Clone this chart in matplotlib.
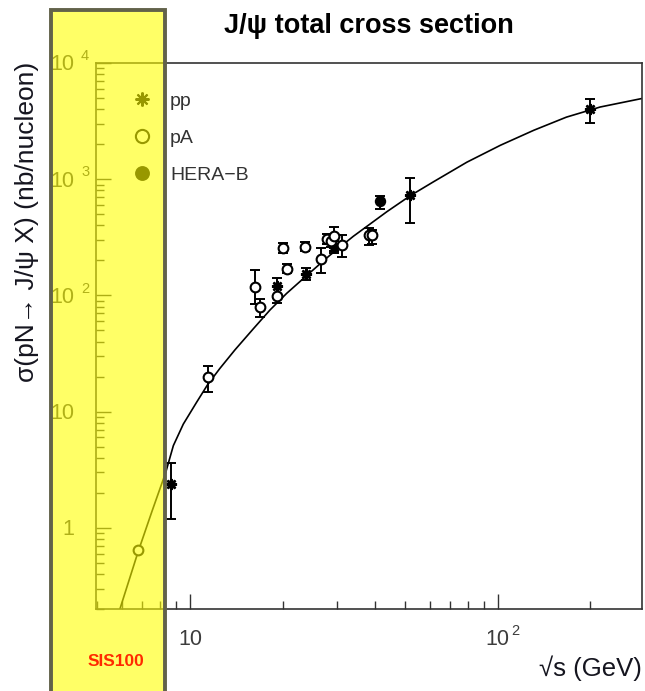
import numpy as np
import matplotlib
matplotlib.use("Agg")
import matplotlib.pyplot as plt
from matplotlib.lines import Line2D
from matplotlib.patches import Rectangle
from matplotlib.ticker import FixedLocator, LogLocator, NullFormatter

plt.rcParams['font.family'] = ['Liberation Sans', 'DejaVu Sans']

# ---------------- data ----------------
# fit curve
curve_x = [5.92, 6.78, 7.52, 8.34, 8.83, 9.51, 10.5, 11.4, 12.5, 14.0, 16.1, 18.2,
           20.6, 24.2, 28.5, 33.9, 43.6, 51.9, 61.8, 79.3, 102, 131, 167, 215, 294]
curve_y = [0.2, 0.62, 1.38, 3.0, 5.1, 7.8, 12.0, 17.0, 23.5, 34, 52, 75,
           104, 152, 222, 322, 525, 720, 950, 1400, 1960, 2640, 3420, 4180, 4950]

# pp
pp_x = [8.65, 19.1, 23.8, 29.3, 51.9, 200]
pp_y = [2.37, 120, 152, 262, 730, 3980]
pp_lo = [1.17, 25, 16, 30, 313, 925]
pp_hi = [1.23, 22, 19, 30, 286, 905]

# pA
pA_x = [6.8, 11.4, 16.3, 16.9, 19.1, 20.1, 20.7, 23.6, 26.7, 27.8, 28.8, 29.4, 31.2, 38.2, 38.9]
pA_y = [0.65, 19.8, 119, 80, 98, 254, 170, 262, 205, 305, 292, 322, 272, 330, 328]
pA_lo = [np.nan, 5.2, 34, 15, 12, 24, 15, 21, 50, 30, 30, 80, 56, 59, 50]
pA_hi = [np.nan, 4.9, 46, 14, 20, 26, 16, 28, 49, 35, 30, 65, 56, 47, 40]

# HERA-B
hb_x = [41.5]
hb_y = [652]
hb_lo = [102]
hb_hi = [68]

legend_labels = ['pp', 'pA', 'HERA\u2212B']

xtick_vals = [10, 100]
xtick_base = ['10', '10']
xtick_exp = ['', '2']
ytick_vals = [1, 10, 100, 1000, 10000]
ytick_base = ['1', '10', '10', '10', '10']
ytick_exp = ['', '', '2', '3', '4']

title = 'J/\u03c8 total cross section'
ylabel = '\u03c3(pN\u2192 J/\u03c8 X) (nb/nucleon)'
xlabel = '\u221as (GeV)'
band_label = 'SIS100'

# ---------------- figure ----------------
W, H = 645, 691
fig = plt.figure(figsize=(W / 100, H / 100), dpi=100)
ax = fig.add_axes([96 / W, 1 - 609 / H, 546 / W, 546 / H])
ax.set_xscale('log')
ax.set_yscale('log')
ax.set_xlim(4.95, 294)
ax.set_ylim(0.2, 1e4)

ax.plot(curve_x, curve_y, color='black', lw=1.2, zorder=2)

ekw = dict(fmt='none', ecolor='black', elinewidth=1.4, capsize=3.5, capthick=1.4, zorder=3)
ax.errorbar(pp_x, pp_y, yerr=[pp_lo, pp_hi], **ekw)
pA_x_a = np.array(pA_x); pA_y_a = np.array(pA_y)
lo_a = np.array(pA_lo); hi_a = np.array(pA_hi)
m = ~np.isnan(lo_a)
ax.errorbar(pA_x_a[m], pA_y_a[m], yerr=[lo_a[m], hi_a[m]], **ekw)
ax.errorbar(hb_x, hb_y, yerr=[hb_lo, hb_hi], **ekw)

star = (8, 2, 0)
ax.plot(pp_x, pp_y, ls='none', marker=star, ms=8, mew=1.8, color='black', zorder=4)
ax.plot(pA_x, pA_y, ls='none', marker='o', ms=7, mew=1.5, mfc='white', mec='black', zorder=4)
ax.plot(hb_x, hb_y, ls='none', marker='o', ms=7, mew=1.2, mfc='black', mec='black', zorder=4)

# axes styling
for s in ax.spines.values():
    s.set_color('#333333')
    s.set_linewidth(1.2)
ax.xaxis.set_major_locator(FixedLocator(xtick_vals))
ax.xaxis.set_minor_locator(LogLocator(base=10, subs=np.arange(2, 10), numticks=20))
ax.yaxis.set_major_locator(FixedLocator(ytick_vals))
ax.yaxis.set_minor_locator(LogLocator(base=10, subs=np.arange(2, 10), numticks=20))
ax.xaxis.set_minor_formatter(NullFormatter())
ax.yaxis.set_minor_formatter(NullFormatter())
ax.tick_params(which='major', direction='in', length=10.5, width=1.0, color='#333333',
               labelbottom=False, labelleft=False)
ax.tick_params(which='minor', direction='in', length=5.5, width=1.0, color='#333333')

tcol = '#3c3c3c'
for v, b, e in zip(ytick_vals, ytick_base, ytick_exp):
    ax.annotate(b, xy=(0, v), xycoords=('axes fraction', 'data'), xytext=(-15.8, -5.4),
                textcoords='offset points', ha='right', va='baseline', fontsize=15.5, color=tcol)
    if e:
        ax.annotate(e, xy=(0, v), xycoords=('axes fraction', 'data'), xytext=(-10.8, 2.0),
                    textcoords='offset points', ha='left', va='baseline', fontsize=10.5, color=tcol)
for v, b, e in zip(xtick_vals, xtick_base, xtick_exp):
    ax.annotate(b, xy=(v, 0), xycoords=('data', 'axes fraction'), xytext=(0, -25.9),
                textcoords='offset points', ha='center', va='baseline', fontsize=15.5, color=tcol)
    if e:
        ax.annotate(e, xy=(v, 0), xycoords=('data', 'axes fraction'), xytext=(9.6, -18.7),
                    textcoords='offset points', ha='left', va='baseline', fontsize=10.5, color=tcol)

# legend
handles = [
    Line2D([], [], ls='none', marker=star, ms=10, mew=1.5, color='black'),
    Line2D([], [], ls='none', marker='o', ms=9.5, mew=1.5, mfc='white', mec='black'),
    Line2D([], [], ls='none', marker='o', ms=9.5, mew=1.2, mfc='black', mec='black'),
]
leg = ax.legend(handles, legend_labels, loc='upper left',
                bbox_to_anchor=(132 / W, 1 - 92 / H), bbox_transform=fig.transFigure,
                frameon=False, fontsize=14, handlelength=1.0, handletextpad=0.96,
                labelspacing=1.0, borderpad=0, borderaxespad=0)
for t in leg.get_texts():
    t.set_color('#333333')

# labels
fig.text(369 / W, 1 - 33 / H, title, ha='center', va='baseline', fontsize=19.5,
         fontweight='bold', color='black')
ax.set_ylabel(ylabel, fontsize=19, color='#15151f')
ax.yaxis.set_label_coords((39 - 96) / 546, (609 - 222) / 546)
ax.set_xlabel(xlabel, fontsize=18.5, color='#15151f')
ax.xaxis.set_label_coords(1.0, (609 - 655) / 546)
ax.xaxis.label.set_ha('right')

# SIS100 overlay band
rect = Rectangle((51 / W, -0.05), (165 - 51) / W, 1.05 - 10 / H, transform=fig.transFigure,
                 facecolor=(1.0, 1.0, 0.0, 0.6), edgecolor='#62624a', linewidth=2.8, zorder=10)
fig.add_artist(rect)
fig.text(116 / W, 1 - 662 / H, band_label, ha='center', va='center', fontsize=12.5,
         fontweight='bold', color='#ff2a00', zorder=11)

fig.savefig('out.png', dpi=100)
